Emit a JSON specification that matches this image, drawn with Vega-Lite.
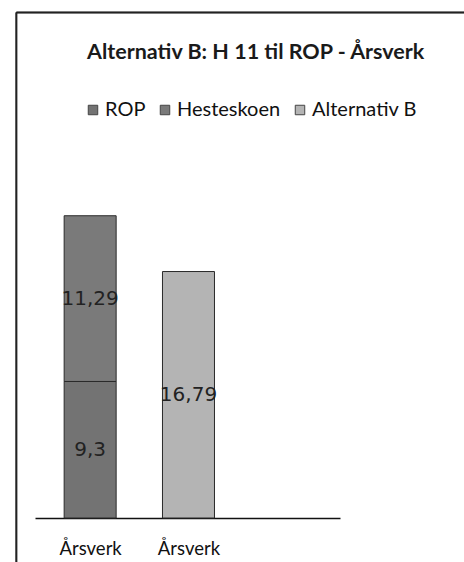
{
  "$schema": "https://vega.github.io/schema/vega-lite/v6.json",
  "width": 305,
  "height": 367,
  "autosize": {"type": "none"},
  "padding": {"left": 35, "top": 151, "right": 124, "bottom": 44},
  "background": "white",
  "title": {
    "text": "Alternativ B: H 11 til ROP - Årsverk",
    "anchor": "start",
    "frame": "group",
    "dx": 52,
    "offset": 0,
    "dy": 52,
    "font": "Lato",
    "fontSize": 21.5,
    "fontWeight": "bold",
    "color": "#1a1a1a"
  },
  "data": {
    "values": [
      {"kategori": 1, "serie": "ROP", "verdi": 9.3},
      {"kategori": 1, "serie": "Hesteskoen", "verdi": 11.29},
      {"kategori": 2, "serie": "Alternativ B", "verdi": 16.79}
    ]
  },
  "layer": [
    {
      "mark": {"type": "bar", "orient": "vertical", "width": 52, "stroke": "#2a2a2a", "strokeWidth": 1},
      "encoding": {
        "x": {
          "field": "kategori",
          "type": "quantitative",
          "scale": {"domain": [0.49, 3.49], "nice": false, "zero": false},
          "axis": {
            "values": [1, 2],
            "labelExpr": "'Årsverk'",
            "ticks": false,
            "grid": false,
            "title": null,
            "domainColor": "#111111",
            "domainWidth": 1.5,
            "labelFont": "Lato",
            "labelFontSize": 18.5,
            "labelColor": "#111111",
            "labelPadding": 21
          }
        },
        "y": {
          "field": "verdi",
          "type": "quantitative",
          "stack": "zero",
          "scale": {"domain": [0, 25], "nice": false},
          "axis": null
        },
        "color": {
          "field": "serie",
          "type": "nominal",
          "scale": {"domain": ["ROP", "Hesteskoen", "Alternativ B"], "range": ["#737373", "#7a7a7a", "#b4b4b4"]},
          "legend": {
            "orient": "none",
            "legendX": 48,
            "legendY": -51,
            "direction": "horizontal",
            "title": null,
            "symbolType": "square",
            "symbolSize": 90,
            "symbolStrokeColor": "#444444",
            "symbolStrokeWidth": 1,
            "labelFont": "Lato",
            "labelFontSize": 20,
            "labelColor": "#111111",
            "labelOffset": 2,
            "columnPadding": 9
          }
        },
        "order": {"field": "serie", "sort": "descending"}
      }
    },
    {
      "transform": [
        {"stack": "verdi", "groupby": ["kategori"], "sort": [{"field": "serie", "order": "descending"}], "as": ["v0", "v1"]},
        {"fold": ["v0", "v1"], "as": ["ende", "pos"]},
        {"aggregate": [{"op": "mean", "field": "pos", "as": "midt"}], "groupby": ["kategori", "serie", "verdi"]}
      ],
      "mark": {"type": "text", "font": "DejaVu Sans", "fontSize": 20, "color": "#222222", "baseline": "middle", "align": "center"},
      "encoding": {
        "x": {"field": "kategori", "type": "quantitative", "scale": {"domain": [0.49, 3.49], "nice": false, "zero": false}},
        "y": {"field": "midt", "type": "quantitative", "scale": {"domain": [0, 25], "nice": false}},
        "text": {"field": "verdi", "type": "quantitative", "format": "~g"}
      }
    },
    {
      "mark": {"type": "rule", "clip": false, "color": "#222222", "strokeWidth": 1.5},
      "encoding": {
        "x": {"datum": 0.25, "scale": {"domain": [0.49, 3.49], "nice": false, "zero": false}},
        "x2": {"datum": 4.9},
        "y": {"datum": 34.43, "scale": {"domain": [0, 25], "nice": false}}
      }
    },
    {
      "mark": {"type": "rule", "clip": false, "color": "#222222", "strokeWidth": 1.5},
      "encoding": {
        "x": {"datum": 0.25, "scale": {"domain": [0.49, 3.49], "nice": false, "zero": false}},
        "y": {"datum": 34.43, "scale": {"domain": [0, 25], "nice": false}},
        "y2": {"datum": -4}
      }
    }
  ],
  "config": {
    "view": {"stroke": null},
    "locale": {"number": {"decimal": ",", "thousands": " ", "grouping": [3], "currency": ["", " kr"]}}
  }
}
